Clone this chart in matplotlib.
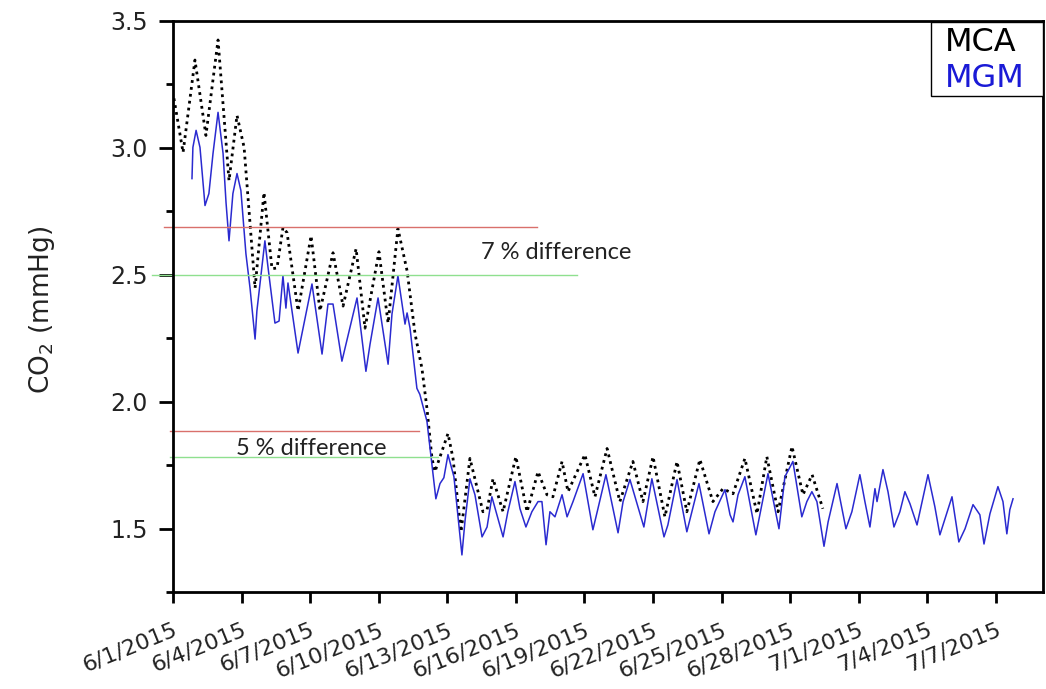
import datetime as dt
import matplotlib
matplotlib.use("Agg")
import matplotlib.pyplot as plt
import matplotlib.dates as mdates
from matplotlib.patches import Rectangle
from matplotlib.ticker import MultipleLocator, FuncFormatter

plt.rcParams['font.family'] = ['DejaVu Sans']
plt.rcParams['mathtext.default'] = 'regular'

start = dt.datetime(2015, 6, 1)

# days since 6/1/2015, CO2 in mmHg
mca_days = [0.04, 0.44, 0.96, 1.44, 1.97, 2.45, 2.80, 3.11, 3.59, 3.98, 4.33, 4.55, 4.81, 4.99,
            5.47, 6.04, 6.43, 7.00, 7.44, 8.01, 8.40, 9.01, 9.41, 9.84, 10.24, 10.59, 10.89,
            11.11, 11.33, 11.46, 12.03, 12.25, 12.60, 12.99, 13.56, 13.74, 14.00, 14.44, 15.00,
            15.49, 15.97, 16.36, 16.62, 17.02, 17.28, 18.02, 18.46, 18.99, 19.55, 20.12, 20.56,
            21.00, 21.52, 22.05, 22.48, 23.05, 23.62, 24.06, 24.50, 25.02, 25.55, 25.98, 26.47,
            27.08, 27.56, 27.96, 28.43]
mca_co2 = [3.194, 2.981, 3.345, 3.048, 3.424, 2.870, 3.127, 3.001, 2.447, 2.823, 2.523, 2.526,
           2.685, 2.665, 2.357, 2.653, 2.357, 2.586, 2.376, 2.602, 2.289, 2.590, 2.309, 2.681,
           2.515, 2.266, 2.131, 1.973, 1.776, 1.724, 1.874, 1.776, 1.487, 1.776, 1.566, 1.574,
           1.696, 1.566, 1.783, 1.566, 1.724, 1.633, 1.625, 1.764, 1.645, 1.791, 1.625, 1.815,
           1.606, 1.764, 1.606, 1.783, 1.546, 1.764, 1.566, 1.772, 1.606, 1.657, 1.637, 1.776,
           1.558, 1.783, 1.566, 1.823, 1.633, 1.712, 1.578]

mgm_days = [0.83, 0.87, 1.01, 1.18, 1.40, 1.57, 1.75, 1.97, 2.19, 2.32, 2.45, 2.62, 2.80, 2.97,
            3.19, 3.37, 3.59, 3.67, 4.02, 4.16, 4.46, 4.64, 4.81, 4.94, 5.03, 5.47, 6.08, 6.52,
            6.78, 7.00, 7.39, 8.05, 8.44, 8.62, 8.97, 9.41, 9.58, 9.84, 10.15, 10.24, 10.37,
            10.67, 10.80, 11.11, 11.33, 11.50, 11.68, 11.85, 12.03, 12.29, 12.64, 12.77, 12.99,
            13.21, 13.52, 13.74, 13.95, 14.44, 14.65, 14.96, 15.18, 15.44, 15.70, 15.97, 16.14,
            16.32, 16.49, 16.71, 17.02, 17.24, 17.50, 17.94, 18.37, 18.59, 18.94, 19.47, 19.69,
            19.99, 20.60, 20.95, 21.48, 21.65, 22.05, 22.48, 23.01, 23.45, 23.71, 24.15, 24.37,
            24.50, 24.72, 25.02, 25.50, 26.03, 26.51, 26.77, 27.12, 27.51, 27.73, 27.95, 28.17,
            28.48, 28.66, 29.05, 29.44, 29.70, 30.05, 30.27, 30.49, 30.71, 30.80, 31.06, 31.28,
            31.54, 31.80, 32.02, 32.24, 32.55, 33.03, 33.33, 33.55, 34.08, 34.38, 34.65, 35.00,
            35.30, 35.48, 35.74, 36.09, 36.31, 36.48, 36.61, 36.75]
mgm_co2 = [2.878, 3.001, 3.068, 3.001, 2.772, 2.819, 2.977, 3.139, 2.977, 2.783, 2.633, 2.819,
           2.898, 2.831, 2.582, 2.447, 2.246, 2.357, 2.633, 2.526, 2.309, 2.317, 2.495, 2.368,
           2.467, 2.191, 2.463, 2.187, 2.384, 2.384, 2.159, 2.408, 2.119, 2.226, 2.408, 2.147,
           2.345, 2.495, 2.305, 2.349, 2.289, 2.052, 2.028, 1.922, 1.752, 1.617, 1.677, 1.700,
           1.791, 1.704, 1.396, 1.526, 1.696, 1.633, 1.467, 1.506, 1.625, 1.467, 1.566, 1.685,
           1.578, 1.506, 1.566, 1.606, 1.606, 1.436, 1.566, 1.546, 1.633, 1.546, 1.606, 1.716,
           1.495, 1.578, 1.712, 1.483, 1.606, 1.693, 1.506, 1.696, 1.467, 1.514, 1.693, 1.487,
           1.677, 1.479, 1.566, 1.653, 1.554, 1.526, 1.633, 1.704, 1.475, 1.716, 1.499, 1.704,
           1.764, 1.546, 1.606, 1.645, 1.606, 1.430, 1.526, 1.677, 1.499, 1.566, 1.712, 1.606,
           1.506, 1.657, 1.606, 1.732, 1.645, 1.506, 1.566, 1.645, 1.598, 1.514, 1.712, 1.586,
           1.475, 1.625, 1.447, 1.499, 1.594, 1.554, 1.439, 1.558, 1.665, 1.606, 1.479, 1.574,
           1.617]

series_names = ['MCA', 'MGM']
series_colors = ['black', '#1a1ad6']

# difference markers: level, from day, to day
upper_levels = [2.686, 2.500]
upper_spans = [(-0.39, 15.92), (-0.92, 17.67)]
lower_levels = [1.885, 1.781]
lower_spans = [(-0.13, 10.76), (-0.13, 11.60)]
line_colors = ['#d9706b', '#8fe08f']

tick_days = list(range(0, 37, 3))


def to_num(days):
    base = mdates.date2num(start)
    return [base + d for d in days]


def date_label(v, pos):
    d = mdates.num2date(v)
    return '{0}/{1}/{2}'.format(d.month, d.day, d.year)


fig = plt.figure(figsize=(10.46, 6.89), dpi=100)
ax = fig.add_axes([0.1654, 0.1408, 0.8317, 0.8292])

ax.plot(to_num(mca_days), mca_co2, color='black', linestyle=(0, (1, 1.5)), linewidth=2.0)
ax.plot(to_num(mgm_days), mgm_co2, color='#2a2ad0', linewidth=1.1)

for lev, span, c in zip(upper_levels, upper_spans, line_colors):
    ax.plot(to_num(span), [lev, lev], color=c, linewidth=1.0, clip_on=False)
for lev, span, c in zip(lower_levels, lower_spans, line_colors):
    ax.plot(to_num(span), [lev, lev], color=c, linewidth=1.0, clip_on=False)

ax.text(to_num([13.47])[0], 2.586, '7 % difference', family=['Lato', 'DejaVu Sans'],
        fontsize=17, va='center', ha='left', color='#222222')
ax.text(to_num([2.76])[0], 1.816, '5 % difference', family=['Lato', 'DejaVu Sans'],
        fontsize=17, va='center', ha='left', color='#222222')

ax.set_xlim(to_num([0])[0], to_num([38.06])[0])
ax.set_ylim(1.25, 3.5)

ax.set_xticks(to_num(tick_days))
ax.xaxis.set_major_formatter(FuncFormatter(date_label))
ax.yaxis.set_major_locator(MultipleLocator(0.5))
ax.yaxis.set_minor_locator(MultipleLocator(0.25))
ax.yaxis.set_major_formatter(FuncFormatter(lambda v, p: '%.1f' % v))

for s in ax.spines.values():
    s.set_linewidth(2.0)
ax.tick_params(axis='x', which='major', direction='out', length=8, width=2.0,
               labelsize=16, pad=12, colors='black', labelcolor='#222222')
ax.tick_params(axis='y', which='major', direction='out', length=10, width=2.0,
               labelsize=17, pad=8, labelcolor='#222222')
ax.tick_params(axis='y', which='minor', direction='out', length=5, width=2.0)
for lbl in ax.get_xticklabels():
    lbl.set_rotation(22)
    lbl.set_ha('right')
    lbl.set_va('top')
    lbl.set_rotation_mode('anchor')

ax.set_ylabel('CO$_2$ (mmHg)', fontsize=19, va='center', color='#222222')
ax.yaxis.set_label_coords(-0.1506, 0.494)

# legend box with coloured names
ax.add_patch(Rectangle((0.8713, 0.8687), 0.1287, 0.1293, transform=ax.transAxes,
                       facecolor='white', edgecolor='black', linewidth=1.0, zorder=5))
for name, c, yy in zip(series_names, series_colors, [0.9623, 0.8984]):
    ax.text(0.8874, yy, name, transform=ax.transAxes, color=c, fontsize=23,
            ha='left', va='center', zorder=6)

fig.savefig('out.png', dpi=100)
